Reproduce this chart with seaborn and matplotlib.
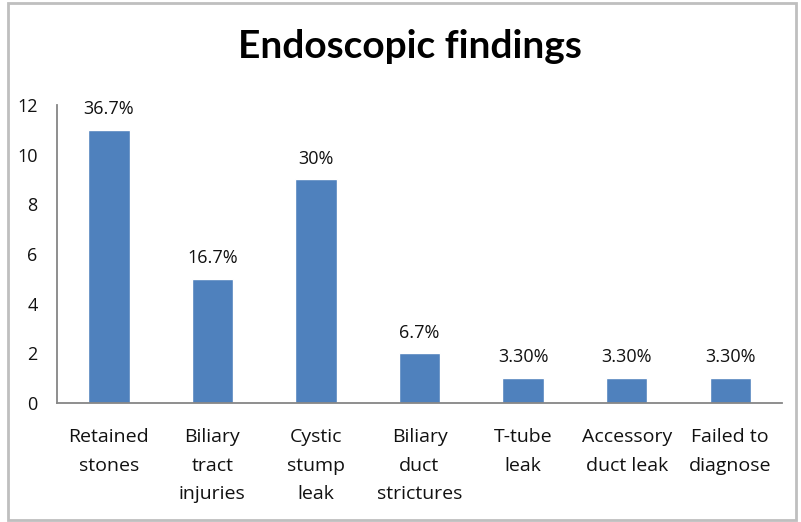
import matplotlib
matplotlib.use("Agg")
import matplotlib.pyplot as plt
import seaborn as sns
import pandas as pd
from matplotlib.patches import Rectangle

categories = ["Retained\nstones", "Biliary\ntract\ninjuries", "Cystic\nstump\nleak",
              "Biliary\nduct\nstrictures", "T-tube\nleak", "Accessory\nduct leak",
              "Failed to\ndiagnose"]
counts = [11, 5, 9, 2, 1, 1, 1]
pct_labels = ["36.7%", "16.7%", "30%", "6.7%", "3.30%", "3.30%", "3.30%"]
yticks = [0, 2, 4, 6, 8, 10, 12]

sns.set_theme(style="white")
plt.rcParams['font.family'] = ['Open Sans', 'DejaVu Sans']

df = pd.DataFrame({"cat": categories, "n": counts})

fig = plt.figure(figsize=(8.01, 5.22), dpi=100)
ax = fig.add_axes([57/801, 1-403/522, (782-57)/801, (403-105)/522])
sns.barplot(data=df, x="cat", y="n", color="#4F81BD", saturation=1, width=0.4, ax=ax)

ax.set_ylim(0, 12)
ax.set_xlim(-0.5, len(categories)-0.5)
ax.set_yticks(yticks)
ax.set_yticklabels([str(v) for v in yticks], fontsize=13, color="#111111")
ax.set_xlabel("")
ax.set_ylabel("")
ax.tick_params(axis="x", which="major", length=0, pad=18, labelsize=14, labelcolor="#111111")
ax.set_xticks([i - 0.5 for i in range(len(categories)+1)], minor=True)
ax.tick_params(axis="x", which="minor", length=7, width=1.2, color="#868686", direction="out")
ax.tick_params(axis="y", length=7, width=1.2, color="#868686", direction="out", pad=7)
for lab in ax.get_xticklabels():
    lab.set_linespacing(1.76)
for s in ["top", "right"]:
    ax.spines[s].set_visible(False)
for s in ["left", "bottom"]:
    ax.spines[s].set_color("#868686")
    ax.spines[s].set_linewidth(1.3)

for i, (v, t) in enumerate(zip(counts, pct_labels)):
    ax.annotate(t, (i, v), xytext=(0, 8.5), textcoords="offset points",
                ha="center", va="bottom", fontsize=13, color="#111111")

fig.text(410/801, 1-47/522, "Endoscopic findings", ha="center", va="center",
         fontsize=28, fontweight="bold", color="#000000", family=["Lato", "DejaVu Sans"])

fig.patches.append(Rectangle((8/801, 2/522), (796-8)/801, (519-2)/522,
                             transform=fig.transFigure, fill=False,
                             edgecolor="#BFBFBF", linewidth=2))

fig.savefig("out.png", dpi=100)
